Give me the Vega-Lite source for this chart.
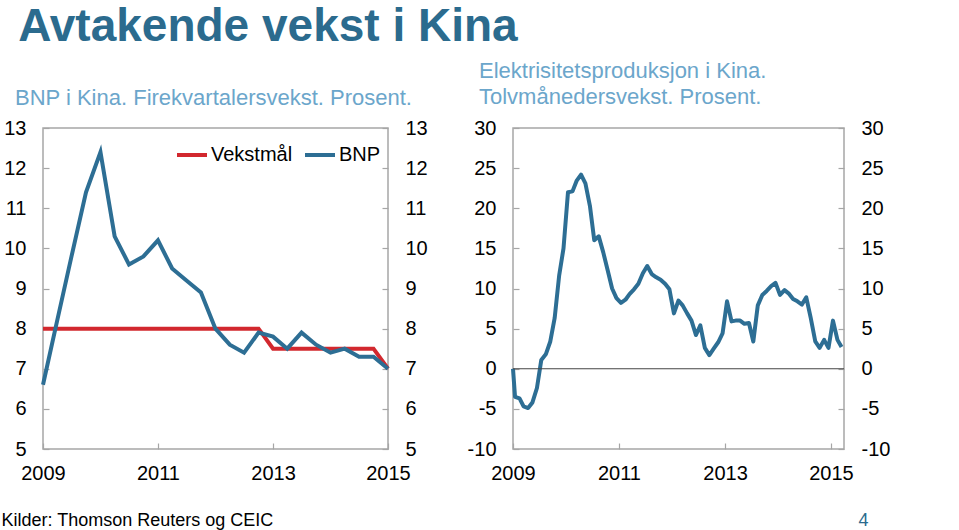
{
  "$schema": "https://vega.github.io/schema/vega-lite/v6.json",
  "padding": {"left": 0, "top": 4, "right": 0, "bottom": 0},
  "background": "white",
  "title": {"text": "Avtakende vekst i Kina", "anchor": "start", "fontSize": 46, "font": "Liberation Sans", "fontWeight": "bold", "color": "#2B6B8E", "dx": 18, "offset": 8},
  "datasets": {
    "bnp": [
      {"d": "2009-01-01", "v": 6.6}, {"d": "2009-04-01", "v": 8.2}, {"d": "2009-07-01", "v": 9.8}, {"d": "2009-10-01", "v": 11.4},
      {"d": "2010-01-01", "v": 12.4}, {"d": "2010-04-01", "v": 10.3}, {"d": "2010-07-01", "v": 9.6}, {"d": "2010-10-01", "v": 9.8},
      {"d": "2011-01-01", "v": 10.2}, {"d": "2011-04-01", "v": 9.5}, {"d": "2011-07-01", "v": 9.2}, {"d": "2011-10-01", "v": 8.9},
      {"d": "2012-01-01", "v": 8.0}, {"d": "2012-04-01", "v": 7.6}, {"d": "2012-07-01", "v": 7.4}, {"d": "2012-10-01", "v": 7.9},
      {"d": "2013-01-01", "v": 7.8}, {"d": "2013-04-01", "v": 7.5}, {"d": "2013-07-01", "v": 7.9}, {"d": "2013-10-01", "v": 7.6},
      {"d": "2014-01-01", "v": 7.4}, {"d": "2014-04-01", "v": 7.5}, {"d": "2014-07-01", "v": 7.3}, {"d": "2014-10-01", "v": 7.3},
      {"d": "2015-01-01", "v": 7.0}
    ],
    "vm": [
      {"d": "2009-01-01", "v": 8}, {"d": "2009-04-01", "v": 8}, {"d": "2009-07-01", "v": 8}, {"d": "2009-10-01", "v": 8},
      {"d": "2010-01-01", "v": 8}, {"d": "2010-04-01", "v": 8}, {"d": "2010-07-01", "v": 8}, {"d": "2010-10-01", "v": 8},
      {"d": "2011-01-01", "v": 8}, {"d": "2011-04-01", "v": 8}, {"d": "2011-07-01", "v": 8}, {"d": "2011-10-01", "v": 8},
      {"d": "2012-01-01", "v": 8}, {"d": "2012-04-01", "v": 8}, {"d": "2012-07-01", "v": 8}, {"d": "2012-10-01", "v": 8},
      {"d": "2013-01-01", "v": 7.5}, {"d": "2013-04-01", "v": 7.5}, {"d": "2013-07-01", "v": 7.5}, {"d": "2013-10-01", "v": 7.5},
      {"d": "2014-01-01", "v": 7.5}, {"d": "2014-04-01", "v": 7.5}, {"d": "2014-07-01", "v": 7.5}, {"d": "2014-10-01", "v": 7.5},
      {"d": "2015-01-01", "v": 7.0}
    ],
    "el": [
      {"d": "2009-01-01", "v": 0},
      {"d": "2009-01-15", "v": -3.5}, {"d": "2009-02-15", "v": -3.7}, {"d": "2009-03-15", "v": -4.7}, {"d": "2009-04-15", "v": -4.9},
      {"d": "2009-05-15", "v": -4.2}, {"d": "2009-06-15", "v": -2.4}, {"d": "2009-07-15", "v": 1.1}, {"d": "2009-08-15", "v": 1.8},
      {"d": "2009-09-15", "v": 3.4}, {"d": "2009-10-15", "v": 6.3}, {"d": "2009-11-15", "v": 11.6}, {"d": "2009-12-15", "v": 15.0},
      {"d": "2010-01-15", "v": 22.0}, {"d": "2010-02-15", "v": 22.1}, {"d": "2010-03-15", "v": 23.4}, {"d": "2010-04-15", "v": 24.2},
      {"d": "2010-05-15", "v": 23.1}, {"d": "2010-06-15", "v": 20.3}, {"d": "2010-07-15", "v": 16.0}, {"d": "2010-08-15", "v": 16.5},
      {"d": "2010-09-15", "v": 14.5}, {"d": "2010-10-15", "v": 12.3}, {"d": "2010-11-15", "v": 10.0}, {"d": "2010-12-15", "v": 8.8},
      {"d": "2011-01-15", "v": 8.2}, {"d": "2011-02-15", "v": 8.6}, {"d": "2011-03-15", "v": 9.3}, {"d": "2011-04-15", "v": 9.9},
      {"d": "2011-05-15", "v": 10.6}, {"d": "2011-06-15", "v": 11.9}, {"d": "2011-07-15", "v": 12.8}, {"d": "2011-08-15", "v": 11.8},
      {"d": "2011-09-15", "v": 11.4}, {"d": "2011-10-15", "v": 11.1}, {"d": "2011-11-15", "v": 10.6}, {"d": "2011-12-15", "v": 9.9},
      {"d": "2012-01-15", "v": 6.9}, {"d": "2012-02-15", "v": 8.5}, {"d": "2012-03-15", "v": 7.9}, {"d": "2012-04-15", "v": 6.9},
      {"d": "2012-05-15", "v": 6.0}, {"d": "2012-06-15", "v": 4.2}, {"d": "2012-07-15", "v": 5.4}, {"d": "2012-08-15", "v": 2.6},
      {"d": "2012-09-15", "v": 1.7}, {"d": "2012-10-15", "v": 2.5}, {"d": "2012-11-15", "v": 3.3}, {"d": "2012-12-15", "v": 4.4},
      {"d": "2013-01-15", "v": 8.4}, {"d": "2013-02-15", "v": 5.9}, {"d": "2013-03-15", "v": 6.0}, {"d": "2013-04-15", "v": 6.0},
      {"d": "2013-05-15", "v": 5.6}, {"d": "2013-06-15", "v": 5.7}, {"d": "2013-07-15", "v": 3.4}, {"d": "2013-08-15", "v": 7.9},
      {"d": "2013-09-15", "v": 9.2}, {"d": "2013-10-15", "v": 9.7}, {"d": "2013-11-15", "v": 10.3}, {"d": "2013-12-15", "v": 10.7},
      {"d": "2014-01-15", "v": 9.2}, {"d": "2014-02-15", "v": 9.8}, {"d": "2014-03-15", "v": 9.4}, {"d": "2014-04-15", "v": 8.7},
      {"d": "2014-05-15", "v": 8.4}, {"d": "2014-06-15", "v": 8.0}, {"d": "2014-07-15", "v": 8.9}, {"d": "2014-08-15", "v": 6.3},
      {"d": "2014-09-15", "v": 3.4}, {"d": "2014-10-15", "v": 2.6}, {"d": "2014-11-15", "v": 3.6}, {"d": "2014-12-15", "v": 2.6},
      {"d": "2015-01-15", "v": 6.0}, {"d": "2015-02-15", "v": 3.6}, {"d": "2015-03-15", "v": 2.7}
    ]
  },
  "spacing": 38,
  "hconcat": [
    {
      "width": 345,
      "height": 321,
      "title": {"text": "BNP i Kina. Firekvartalersvekst. Prosent.", "anchor": "start", "frame": "group", "dx": -28, "fontSize": 22, "font": "Liberation Sans", "fontWeight": "normal", "color": "#6BA6CB", "offset": 8},
      "layer": [
        {
          "data": {"name": "vm"},
          "mark": {"type": "line", "strokeWidth": 4, "strokeCap": "butt"},
          "encoding": {
            "x": {"field": "d", "type": "temporal", "scale": {"type": "utc", "domain": [{"year": 2009, "month": 1, "date": 1, "utc": true}, {"year": 2015, "month": 1, "date": 1, "utc": true}]},
                  "axis": {"values": [{"year": 2009, "utc": true}, {"year": 2011, "utc": true}, {"year": 2013, "utc": true}, {"year": 2015, "utc": true}], "format": "%Y", "formatType": "utc", "labelFlush": false, "labelOverlap": false, "labelPadding": 20,
                           "title": "Kilder: Thomson Reuters og CEIC", "titleX": -42, "titleY": 62, "titleAlign": "left", "titleAnchor": "start", "titleBaseline": "top", "titleFontSize": 18, "titleFontWeight": "normal", "titleColor": "#000000", "titleFont": "Liberation Sans"}},
            "y": {"field": "v", "type": "quantitative", "scale": {"domain": [5, 13], "nice": false, "zero": false},
                  "axis": {"orient": "left", "values": [5, 6, 7, 8, 9, 10, 11, 12, 13], "title": null}},
            "color": {"datum": "Vekstmål", "type": "nominal", "scale": {"domain": ["Vekstmål", "BNP"], "range": ["#D2282E", "#2D6E94"]},
                      "legend": {"title": null, "orient": "none", "legendX": 132, "legendY": 10, "direction": "horizontal", "symbolType": "stroke", "symbolSize": 900, "symbolStrokeWidth": 4, "labelFontSize": 20, "labelFont": "Liberation Sans", "labelColor": "#000000", "labelOffset": 2, "columnPadding": 4, "padding": 0}}
          }
        },
        {
          "data": {"name": "bnp"},
          "mark": {"type": "line", "strokeWidth": 4, "strokeJoin": "miter"},
          "encoding": {
            "x": {"field": "d", "type": "temporal"},
            "y": {"field": "v", "type": "quantitative", "axis": {"orient": "right", "values": [5, 6, 7, 8, 9, 10, 11, 12, 13], "title": null}},
            "color": {"datum": "BNP", "type": "nominal"}
          }
        }
      ],
      "resolve": {"axis": {"y": "independent"}}
    },
    {
      "width": 331,
      "height": 321,
      "title": {"text": ["Elektrisitetsproduksjon i Kina.", "Tolvmånedersvekst. Prosent."], "anchor": "start", "frame": "group", "dx": -34, "fontSize": 22, "lineHeight": 26, "font": "Liberation Sans", "fontWeight": "normal", "color": "#6BA6CB", "offset": 9},
      "layer": [
        {
          "data": {"name": "el"},
          "mark": {"type": "line", "strokeWidth": 4, "color": "#2D6E94", "strokeJoin": "round"},
          "encoding": {
            "x": {"field": "d", "type": "temporal", "scale": {"type": "utc", "domain": [{"year": 2009, "month": 1, "date": 1, "utc": true}, {"year": 2015, "month": 4, "date": 1, "utc": true}]},
                  "axis": {"values": [{"year": 2009, "utc": true}, {"year": 2011, "utc": true}, {"year": 2013, "utc": true}, {"year": 2015, "utc": true}], "format": "%Y", "formatType": "utc", "labelFlush": false, "labelOverlap": false, "labelPadding": 20,
                           "title": "4", "titleX": 345, "titleY": 62, "titleAlign": "left", "titleAnchor": "start", "titleBaseline": "top", "titleFontSize": 18, "titleFontWeight": "normal", "titleColor": "#2B6B8E", "titleFont": "Liberation Sans"}},
            "y": {"field": "v", "type": "quantitative", "scale": {"domain": [-10, 30], "nice": false},
                  "axis": {"orient": "left", "values": [-10, -5, 0, 5, 10, 15, 20, 25, 30], "labelExpr": "'' + datum.value", "title": null}}
          }
        },
        {
          "data": {"values": [{}]},
          "mark": {"type": "rule", "color": "#444444", "strokeWidth": 1},
          "encoding": {
            "y": {"datum": 0, "type": "quantitative", "axis": {"orient": "right", "values": [-10, -5, 0, 5, 10, 15, 20, 25, 30], "labelExpr": "'' + datum.value", "title": null}}
          }
        }
      ],
      "resolve": {"axis": {"y": "independent"}}
    }
  ],
  "config": {
    "font": "Liberation Sans",
    "view": {"stroke": "#a6a6a6", "strokeWidth": 1.5},
    "axis": {"labelFont": "Liberation Sans", "labelFontSize": 20, "labelColor": "#000000", "grid": false, "domain": false, "ticks": true, "tickColor": "#a6a6a6", "tickSize": -6, "tickWidth": 1.2, "labelPadding": 23}
  }
}
